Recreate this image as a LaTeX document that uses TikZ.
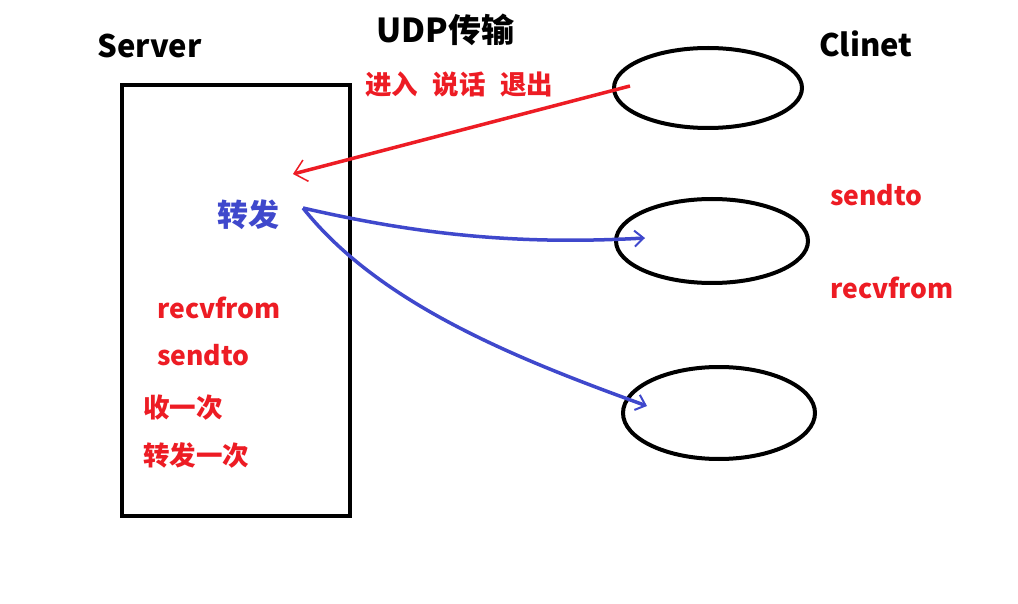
\documentclass[tikz,border=0pt]{standalone}
\usepackage{fontspec}
\newfontfamily\cjk{Noto Sans CJK SC}
\usetikzlibrary{shapes.geometric,arrows.meta}
\definecolor{myred}{HTML}{ED1C24}
\definecolor{myblue}{HTML}{3F48CC}
\begin{document}
\begin{tikzpicture}[x=1pt,y=-1pt,
  big/.style={font=\cjk\bfseries\fontsize{31}{31}\selectfont, inner sep=0pt, anchor=west},
  red label/.style={font=\cjk\bfseries\fontsize{26.5}{26.5}\selectfont, text=myred, inner sep=0pt, anchor=west},
  client/.style={draw, ellipse, line width=4pt, inner sep=0pt},
  red arrow/.style={draw=myred, line width=3.5pt, -{Straight Barb[length=12pt,width=22pt,line width=1.5pt]}},
  blue arrow/.style={draw=myblue, line width=3.5pt, -{Straight Barb[length=9pt,width=16pt,line width=2pt]}}]
\useasboundingbox[fill=white] (0,0) rectangle (1018,604);
% server box
\node[draw, line width=4pt, inner sep=0pt, minimum width=228, minimum height=431] (srv) at (236,300.5) {};
\node[big] (server) at (97,46) {Server};
\node[big, font=\cjk\bfseries\fontsize{33}{33}\selectfont] (udp) at (376,30) {UDP传输};
\node[big] (clinet) at (819,44) {Clinet};
\node[red label] (ops) at (365,84) {进入\hspace{0.55em}说话\hspace{0.55em}退出};
% clients
\node[client, minimum width=188, minimum height=80] (c1) at (708,88) {};
\node[client, minimum width=192, minimum height=84] (c2) at (712,241) {};
\node[client, minimum width=192, minimum height=92] (c3) at (719,413) {};
\node[red label] (csend) at (830,195) {sendto};
\node[red label] (crecv) at (830,288) {recvfrom};
% server texts
\node[big, text=myblue] (fwd) at (217,215) {转发};
\node[red label] (srecv) at (157,308) {recvfrom};
\node[red label] (ssend) at (157,355) {sendto};
\node[red label] (once) at (143,408) {收一次};
\node[red label] (fwdonce) at (143,455) {转发一次};
% connectors
\coordinate (rstart) at (630,86);
\coordinate (rend) at (293,174);
\coordinate (bstart) at (303,208);
\coordinate (b2end) at (645,238);
\coordinate (b3end) at (647,406);
\draw[red arrow] (rstart) -- (rend);
\draw[blue arrow] (bstart) .. controls (420,235) and (520,245) .. (b2end);
\draw[blue arrow] (bstart) .. controls (380,305) and (520,360) .. (b3end);
\end{tikzpicture}
\end{document}
